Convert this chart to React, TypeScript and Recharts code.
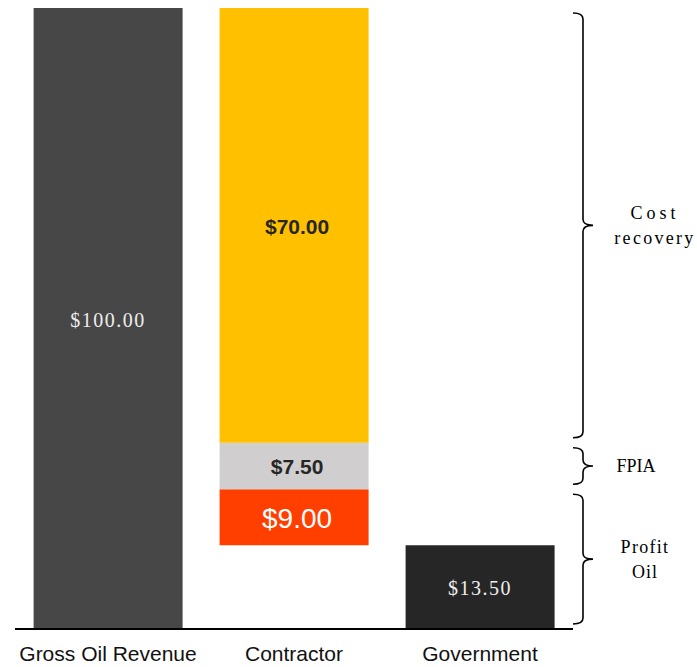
import { Bar, BarChart, Cell, LabelList, ReferenceArea, XAxis, YAxis } from "recharts";

// split of a $100 barrel between contractor and government
const categories = ["Gross Oil Revenue", "Contractor", "Government"];
const baseValues = [100, 13.5, 13.5]; // contractor's base is an invisible offset
const profitOil = [null, 9, null];
const fpiaValues = [null, 7.5, null];
const costRecovery = [null, 70, null];

const braceLabels = [["Cost", "recovery"], ["FPIA"], ["Profit", "Oil"]];
const braceFrom = [30, 22.5, 0];
const braceTo = [100, 30, 22.5];

const data = categories.map((name, i) => ({
  name,
  base: baseValues[i],
  profit: profitOil[i],
  fpia: fpiaValues[i],
  cost: costRecovery[i],
}));

const baseFill = ["#474747", "transparent", "#262626"];
const braceTextX = [655, 636, 645];
const lineSpacing: Record<string, number> = {
  Cost: 4,
  recovery: 2.3,
  FPIA: 0,
  Profit: 1.3,
  Oil: 1,
};

const money = (v: number) => `$${v.toFixed(2)}`;

type LabelStyle = {
  fontFamily: string;
  fontSize: number;
  fontWeight?: number | string;
  fill: string;
  letterSpacing?: number;
  dx?: number;
};

function makeLabel(style: LabelStyle, skipIndex?: number) {
  return (props: any) => {
    const { x, y, width, height, index, value } = props;
    if (value == null || !Number(height) || index === skipIndex) return null;
    const { dx = 0, ...rest } = style;
    return (
      <text
        x={Number(x) + Number(width) / 2 + dx}
        y={Number(y) + Number(height) / 2 + style.fontSize * 0.4}
        textAnchor="middle"
        {...rest}
      >
        {money(Number(value))}
      </text>
    );
  };
}

function makeBrace(i: number) {
  return (props: any) => {
    const { x, y, width, height } = props;
    const right = Number(x) + Number(width);
    const y1 = Number(y) + 5;
    const y2 = Number(y) + Number(height) - 5;
    const ym = (y1 + y2) / 2;
    const sx = right + 10;
    const tx = right + 20;
    const r = 6;
    const d = `M${right},${y1} Q${sx},${y1} ${sx},${y1 + r} L${sx},${ym - r} Q${sx},${ym} ${tx},${ym} Q${sx},${ym} ${sx},${ym + r} L${sx},${y2 - r} Q${sx},${y2} ${right},${y2}`;
    const lines = braceLabels[i];
    return (
      <g>
        <path d={d} fill="none" stroke="#000" strokeWidth={1.6} />
        {lines.map((t, k) => (
          <text
            key={t}
            x={braceTextX[i]}
            y={ym + 6 + (k - (lines.length - 1) / 2) * 25}
            textAnchor="middle"
            fontFamily="'Liberation Serif', 'Times New Roman', serif"
            fontSize={18}
            fill="#000"
            letterSpacing={lineSpacing[t] ?? 0}
          >
            {t}
          </text>
        ))}
      </g>
    );
  };
}

const CategoryTick = ({ x, y, payload }: any) => (
  <text
    x={x}
    y={Number(y) + 32}
    textAnchor="middle"
    fontFamily="'Liberation Sans', Arial, sans-serif"
    fontSize={21}
    fill="#111"
  >
    {payload.value}
  </text>
);

const serifLabel: LabelStyle = {
  fontFamily: "'Liberation Serif', 'Times New Roman', serif",
  fontSize: 20,
  fill: "#eeeeee",
  letterSpacing: 1.5,
};

const boldLabel: LabelStyle = {
  fontFamily: "'Liberation Sans', Arial, sans-serif",
  fontSize: 21,
  fontWeight: "bold",
  fill: "#262626",
  dx: 3,
};

const bigLabel: LabelStyle = {
  fontFamily: "'Liberation Sans', Arial, sans-serif",
  fontSize: 28,
  fill: "#ffffff",
  dx: 3,
};

export default function App() {
  return (
    <div style={{ position: "absolute", left: 0, top: 0 }}>
      <BarChart
        width={697}
        height={667}
        data={data}
        margin={{ top: 8, right: 124, bottom: 8, left: 15 }}
        barCategoryGap="10%"
      >
        <XAxis
          dataKey="name"
          height={30}
          tickLine={false}
          tickSize={0}
          tickMargin={0}
          axisLine={{ stroke: "#000", strokeWidth: 2 }}
          tick={<CategoryTick />}
        />
        <YAxis hide domain={[0, 100]} />
        <Bar dataKey="base" stackId="s" isAnimationActive={false}>
          {data.map((d, i) => (
            <Cell key={d.name} fill={baseFill[i]} />
          ))}
          <LabelList
            dataKey="base"
            content={makeLabel(serifLabel, categories.indexOf("Contractor"))}
          />
        </Bar>
        <Bar dataKey="profit" stackId="s" fill="#FF3F00" isAnimationActive={false}>
          <LabelList dataKey="profit" content={makeLabel(bigLabel)} />
        </Bar>
        <Bar dataKey="fpia" stackId="s" fill="#D0CECE" isAnimationActive={false}>
          <LabelList dataKey="fpia" content={makeLabel(boldLabel)} />
        </Bar>
        <Bar dataKey="cost" stackId="s" fill="#FFC000" isAnimationActive={false}>
          <LabelList dataKey="cost" content={makeLabel(boldLabel)} />
        </Bar>
        {braceLabels.map((_, i) => (
          <ReferenceArea
            key={i}
            y1={braceFrom[i]}
            y2={braceTo[i]}
            ifOverflow="visible"
            shape={makeBrace(i)}
          />
        ))}
      </BarChart>
    </div>
  );
}
